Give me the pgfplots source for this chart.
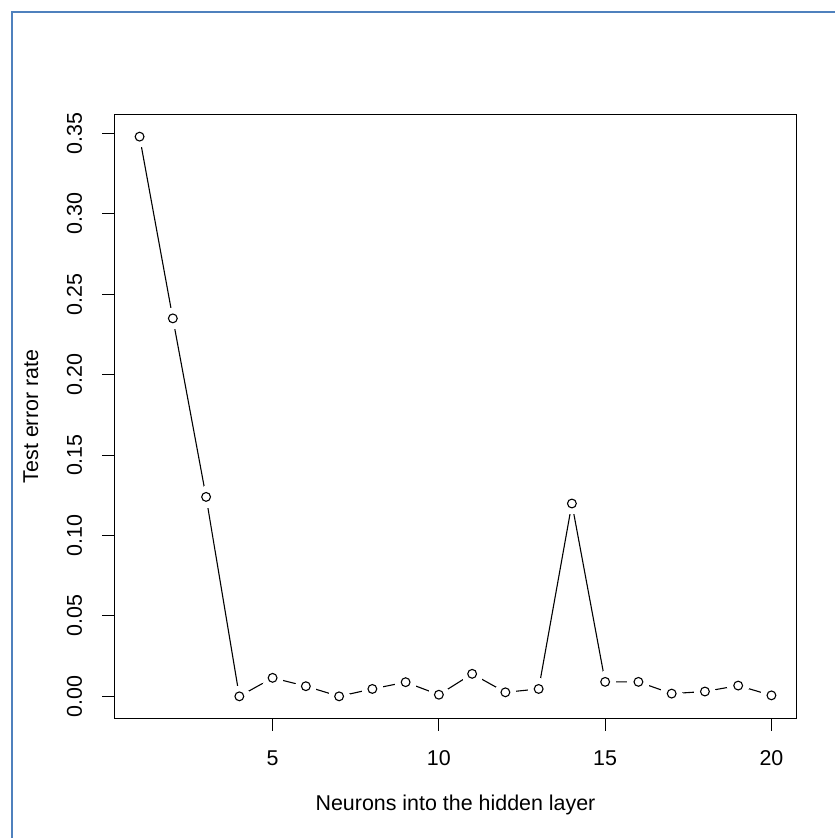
\documentclass[border=0pt]{standalone}
\usepackage{pgfplots}
\usepackage{pgfplotstable}
\pgfplotsset{compat=1.18}
\usepackage{fontspec}
\setmainfont{Liberation Sans}
\definecolor{frameblue}{RGB}{79,129,189}
\pgfplotstableread{
x y
1 0.348
2 0.235
3 0.124
4 0.000
5 0.0115
6 0.0063
7 0.000
8 0.0046
9 0.0088
10 0.0010
11 0.0140
12 0.0025
13 0.0046
14 0.1199
15 0.0090
16 0.0090
17 0.0017
18 0.0030
19 0.0067
20 0.0006
}\errdata
\begin{document}
\begin{tikzpicture}[x=1bp,y=1bp]
\path[use as bounding box, fill=white] (0,0) rectangle (835,838);
\draw[frameblue, line width=2.2bp] (11.7,0) -- (11.7,826.3) -- (835,826.3);
\begin{axis}[
  at={(114.3bp,119.3bp)}, anchor=south west,
  scale only axis, width=682.4bp, height=604.4bp,
  xmin=0.24, xmax=20.76, ymin=-0.0139, ymax=0.3619,
  axis line style={black, line width=1.1bp},
  xtick={5,10,15,20},
  ytick={0,0.05,0.10,0.15,0.20,0.25,0.30,0.35},
  tick align=outside, major tick length=12bp,
  tick style={black, line width=1.1bp},
  xtick pos=bottom, ytick pos=left,
  minor tick num=0,
  tick label style={font=\fontsize{21.5}{25}\selectfont},
  label style={font=\fontsize{21.5}{25}\selectfont},
  /pgf/number format/assume math mode=true,
  xticklabel style={anchor=base, yshift=-34.8bp},
  yticklabel style={/pgf/number format/fixed, /pgf/number format/fixed zerofill,
    /pgf/number format/precision=2, rotate=90, anchor=base, yshift=20.5bp},
  xlabel={Neurons into the hidden layer},
  ylabel={Test error rate},
  xlabel style={at={(axis description cs:0.5,0)}, anchor=base, yshift=-91.3bp},
  ylabel style={at={(axis description cs:-0.1115,0.5)}, anchor=base},
]
\addplot[black, line width=1.1bp] table[x=x,y=y] {\errdata};
\addplot[white, only marks, mark=*, mark size=10.5bp, mark options={draw=white, fill=white, line width=0pt}] table[x=x,y=y] {\errdata};
\addplot[black, only marks, mark=o, mark size=4.4bp, mark options={line width=1.1bp, draw=black}] table[x=x,y=y] {\errdata};
\end{axis}
\end{tikzpicture}
\end{document}
